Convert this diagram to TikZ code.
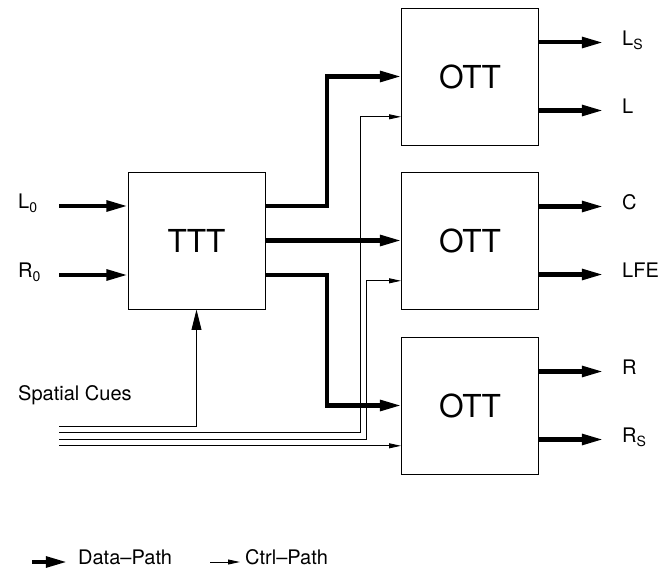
\documentclass[tikz,border=0pt]{standalone}
\usepackage{fontspec}
\setmainfont{TeX Gyre Heros}
\usepackage{tkz-euclide}
\usetikzlibrary{arrows.meta,positioning}

\tikzset{
  box/.style={draw,line width=1.3pt,minimum size=6.85cm,inner sep=0pt,
    font=\fontsize{45}{54}\selectfont},
  lbl/.style={inner sep=0pt,anchor=west,text height=0.72em,text depth=0pt,
    font=\fontsize{28.5}{34}\selectfont},
  data/.style={line width=5.7pt,-{Triangle[length=30pt,width=15pt]}},
  ctrl/.style={line width=1.3pt,-{Triangle[length=17pt,width=7pt]}},
  cue/.style={line width=1.3pt,-{Triangle[length=29pt,width=14pt]}}
}

\begin{document}
\begin{tikzpicture}
  \useasboundingbox (0,0) rectangle (33.2,28.65);
  \tkzDefPoints{2.95/18.35/Li,2.95/14.9/Ri,16.35/24.825/Ka,16.35/8.375/Kb}
  \tkzDefPoints{2.95/7.35/S0,2.95/7.02/S1,2.95/6.69/S2,2.95/6.36/S3}
  \tkzDefPoints{18.035/22.81/Xa,18.335/14.61/Xb}
  \tkzDefPoints{30.15/26.525/Ea,30.15/23.125/Eb,30.15/18.325/Ec,30.15/14.925/Ed,30.15/10.075/Ee,30.15/6.675/Ef}
  \tkzDefPoints{1.6/0.55/Da,3.35/0.55/Db,10.5/0.55/Ca,12.0/0.55/Cb}
	\node[box] (ttt) at (9.825,16.625) {TTT};
	\node[box] (otta) at (23.5,24.825) {OTT};
	\node[box] (ottb) at (23.5,16.625) {OTT};
	\node[box] (ottc) at (23.5,8.375) {OTT};
	\node[lbl] (l0) at (0.9,18.35) {L\textsubscript{0}};
	\node[lbl] (r0) at (0.9,14.9) {R\textsubscript{0}};
	\node[lbl] (cues) at (0.9,8.775) {Spatial Cues};
	\draw[data] (Li) -- (Li -| ttt.west);
	\draw[data] (Ri) -- (Ri -| ttt.west);
	\draw[data] (ttt.east |- Li) -| (Ka) -- (otta.west);
	\draw[data] (ttt.east) -- (ottb.west);
	\draw[data] (ttt.east |- Ri) -| (Kb) -- (ottc.west);
	\draw[cue] (S0) -| (ttt.south);
	\draw[ctrl] (S1) -| (Xa) -- (otta.west |- Xa);
	\draw[ctrl] (S2) -| (Xb) -- (ottb.west |- Xb);
	\draw[ctrl] (S3) -- (ottc.west |- S3);
	\draw[data] (otta.east |- Ea) -- (Ea);
	\draw[data] (otta.east |- Eb) -- (Eb);
	\draw[data] (ottb.east |- Ec) -- (Ec);
	\draw[data] (ottb.east |- Ed) -- (Ed);
	\draw[data] (ottc.east |- Ee) -- (Ee);
	\draw[data] (ottc.east |- Ef) -- (Ef);
	\node[lbl,right=0.95cm of Ea] (ls) {L\textsubscript{S}};
	\node[lbl,right=0.95cm of Eb] (l) {L};
	\node[lbl,right=0.95cm of Ec] (c) {C};
	\node[lbl,right=0.95cm of Ed] (lfe) {LFE};
	\node[lbl,right=0.95cm of Ee] (r) {R};
	\node[lbl,right=0.95cm of Ef] (rs) {R\textsubscript{S}};
	\draw[data] (Da) -- (Db);
	\draw[ctrl] (Ca) -- (Cb);
	\node[lbl,right=0.55cm of Db] (datapath) {Data--Path};
	\node[lbl,right=0.25cm of Cb] (ctrlpath) {Ctrl--Path};
\end{tikzpicture}
\end{document}
